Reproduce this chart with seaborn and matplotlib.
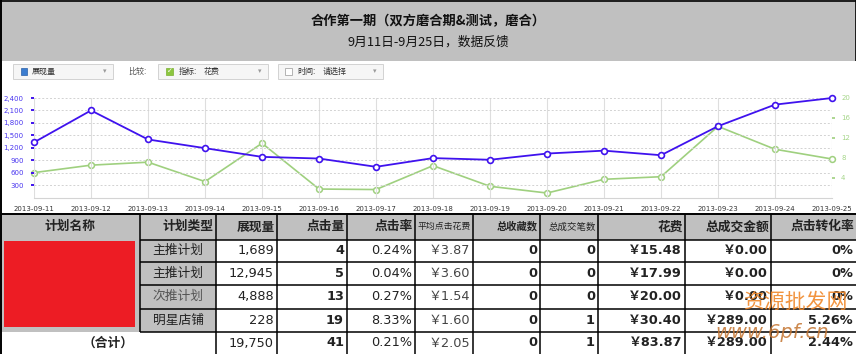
import matplotlib
matplotlib.use("Agg")
import matplotlib.pyplot as plt
import seaborn as sns
import pandas as pd
from matplotlib.patches import Rectangle
from matplotlib.lines import Line2D

# ---------------- data ----------------
dates = ['2013-09-11', '2013-09-12', '2013-09-13', '2013-09-14', '2013-09-15',
         '2013-09-16', '2013-09-17', '2013-09-18', '2013-09-19', '2013-09-20',
         '2013-09-21', '2013-09-22', '2013-09-23', '2013-09-24', '2013-09-25']
impressions = [1330, 2100, 1400, 1190, 980, 940, 740, 950, 910, 1060, 1130, 1020, 1720, 2240, 2400]
spend = [5.0, 6.5, 7.1, 3.2, 10.9, 1.7, 1.6, 6.4, 2.25, 0.9, 3.66, 4.18, 14.3, 9.7, 7.74]
left_ticks = [300, 600, 900, 1200, 1500, 1800, 2100, 2400]
right_ticks = [4, 8, 12, 16, 20]

title1 = '合作第一期（双方磨合期&测试，磨合）'
title2 = '9月11日-9月25日，数据反馈'

headers = ['计划名称', '计划类型', '展现量', '点击量', '点击率', '平均点击花费',
           '总收藏数', '总成交笔数', '花费', '总成交金额', '点击转化率']
plan_types = ['主推计划', '主推计划', '次推计划', '明星店铺']
total_label = '（合计）'
col_impr = ['1,689', '12,945', '4,888', '228', '19,750']
col_clicks = ['4', '5', '13', '19', '41']
col_ctr = ['0.24%', '0.04%', '0.27%', '8.33%', '0.21%']
col_cpc = ['￥3.87', '￥3.60', '￥1.54', '￥1.60', '￥2.05']
col_fav = ['0', '0', '0', '0', '0']
col_orders = ['0', '0', '0', '1', '1']
col_cost = ['￥15.48', '￥17.99', '￥20.00', '￥30.40', '￥83.87']
col_revenue = ['￥0.00', '￥0.00', '￥0.00', '￥289.00', '￥289.00']
col_cvr = ['0%', '0%', '0%', '5.26%', '2.44%']

# ---------------- setup ----------------
sns.set_style("white")
CJK = ['Noto Sans CJK SC', 'DejaVu Sans']
NUM = ['DejaVu Sans', 'Noto Sans CJK SC']
plt.rcParams['font.family'] = CJK

W, H = 856, 354
fig = plt.figure(figsize=(W / 100, H / 100), dpi=100)
fig.patch.set_facecolor('white')


def R(x0, y0, x1, y1, **kw):
    r = Rectangle((x0 / W, 1 - y1 / H), (x1 - x0) / W, (y1 - y0) / H,
                  transform=fig.transFigure, **kw)
    fig.add_artist(r)
    return r


def L(x0, y0, x1, y1, color='black', lw=1.0, **kw):
    ln = Line2D([x0 / W, x1 / W], [1 - y0 / H, 1 - y1 / H], transform=fig.transFigure,
                color=color, lw=lw, solid_capstyle='butt', **kw)
    fig.add_artist(ln)


def T(x, y, s, **kw):
    kw.setdefault('va', 'center')
    return fig.text(x / W, 1 - y / H, s, **kw)


# ---------------- header ----------------
R(0, 0, W, 61, facecolor='#c0c0c0', edgecolor='none')
L(0, 0.5, W, 0.5, lw=1.2)
L(855.5, 0, 855.5, 61, lw=1.2)
L(0.5, 0, 0.5, H, lw=1.4)
T(428, 21.5, title1, ha='center', fontsize=9.5, fontweight='bold', color='#111', family=CJK)
T(428, 42.5, title2, ha='center', fontsize=9.2, color='#111', family=CJK)

# ---------------- controls strip ----------------
for (x0, x1) in [(13, 113), (158, 268), (278, 383)]:
    R(x0, 64, x1, 79, facecolor='#f6f6f6', edgecolor='#d2d2d2', lw=0.7)
    T(x1 - 8, 71.5, '▾', ha='center', fontsize=5, color='#9a9a9a', family=NUM)
R(21, 68, 27, 75, facecolor='#3b7dd0', edgecolor='#2a5fa8', lw=0.5)
T(32, 71.5, '展现量', ha='left', fontsize=5.8, color='#333', family=CJK)
T(128, 71.5, '比较:', ha='left', fontsize=5.8, color='#555', family=CJK)
R(166, 68, 173, 75, facecolor='#8cc63f', edgecolor='#7ab030', lw=0.5)
T(169.5, 71.5, '✓', ha='center', fontsize=5, color='white', fontweight='bold', family=NUM)
T(179, 71.5, '指标:', ha='left', fontsize=5.8, color='#333', family=CJK)
T(204, 71.5, '花费', ha='left', fontsize=5.8, color='#333', family=CJK)
R(285, 68, 292, 75, facecolor='white', edgecolor='#a8a8a8', lw=0.6)
T(297, 71.5, '时间:', ha='left', fontsize=5.8, color='#333', family=CJK)
T(323, 71.5, '请选择', ha='left', fontsize=5.8, color='#333', family=CJK)

# ---------------- line chart ----------------
df = pd.DataFrame({'idx': list(range(len(dates))), 'impressions': impressions, 'spend': spend})
ax = fig.add_axes([34 / W, 1 - 197.5 / H, 798 / W, 99.5 / H])
ax2 = ax.twinx()
ax.set_zorder(ax2.get_zorder() + 1)
ax.patch.set_visible(False)

blue = '#3f12ee'
green = '#9fd07f'
sns.lineplot(data=df, x='idx', y='spend', ax=ax2, color=green, lw=1.2, marker='o',
             markersize=4.2, markerfacecolor='white', markeredgecolor=green,
             markeredgewidth=1.1, clip_on=False)
sns.lineplot(data=df, x='idx', y='impressions', ax=ax, color=blue, lw=1.3, marker='o',
             markersize=4.2, markerfacecolor='white', markeredgecolor=blue,
             markeredgewidth=1.2, clip_on=False)

ax.set_xlim(0, len(dates) - 1)
ax.set_ylim(0, 2400)
ax2.set_ylim(0, 20)
ax.set_xticks(range(len(dates)))
ax.set_xticklabels(dates, fontsize=5, color='#333', family=NUM)
ax.set_yticks(left_ticks)
ax.set_yticklabels([f'{v:,}' for v in left_ticks], fontsize=5, color='#4a36f0', family=NUM)
ax2.set_yticks(right_ticks)
ax2.set_yticklabels([str(v) for v in right_ticks], fontsize=5, color='#a6d68a', family=NUM)
ax.tick_params(axis='x', length=3, width=0.8, color='#d4d4d4', pad=3)
ax.tick_params(axis='y', length=2.5, width=1.4, color=blue, pad=5)
ax2.tick_params(axis='y', length=2.5, width=1.2, color=green, pad=4)
ax.set_xlabel('')
ax.set_ylabel('')
ax2.set_ylabel('')
ax.grid(axis='y', ls=(0, (2, 2)), color='#d2d2d2', lw=0.7)
ax.grid(axis='x', ls='-', color='#dedede', lw=0.8)
for sp in ['top', 'left', 'right']:
    ax.spines[sp].set_visible(False)
    ax2.spines[sp].set_visible(False)
ax.spines['bottom'].set_color('#d4d4d4')
ax.spines['bottom'].set_linewidth(0.8)
ax2.spines['bottom'].set_visible(False)

# ---------------- table ----------------
xs = [0, 140, 216, 277, 347, 415, 473, 540, 598, 685, 771, 856]
ys = [214, 239.5, 262, 285, 308.5, 331.5, 354]
gray = '#c0c0c0'

R(0, ys[0], W, ys[1], facecolor=gray, edgecolor='none')
R(0, ys[1], xs[1], ys[5], facecolor=gray, edgecolor='none')
R(xs[1], ys[1], xs[2], ys[5], facecolor=gray, edgecolor='none')
R(4, 241, 135, 327, facecolor='#ed1c24', edgecolor='none')

lw = 1.1
L(0, ys[0], W, ys[0], lw=1.4)
for y in ys[1:6]:
    L(xs[1], y, W, y, lw=lw)
L(xs[1], ys[0], xs[1], ys[5], lw=lw)
for x in xs[2:11]:
    L(x, ys[0], x, H, lw=lw)

hsize = [9.2, 9.2, 9.2, 9.2, 9.2, 6.4, 7.4, 6.8, 9.2, 9.2, 9.2]
hbold = [True, True, True, True, True, False, True, False, True, True, True]
hy = (ys[0] + ys[1]) / 2
T(xs[1] / 2, hy, headers[0], ha='center', fontsize=hsize[0], fontweight='bold', color='#222', family=CJK)
for i in range(1, len(headers)):
    T(xs[i + 1] - 2, hy, headers[i], ha='right', fontsize=hsize[i],
      fontweight='bold' if hbold[i] else 'normal', color='#222', family=CJK)

row_cy = [(ys[i] + ys[i + 1]) / 2 for i in range(1, 5)] + [343]
for r, pt in enumerate(plan_types):
    T((xs[1] + xs[2]) / 2, row_cy[r], pt, ha='center', fontsize=9.2,
      color='#555' if pt == '次推计划' else '#222', family=CJK)
T(xs[2] / 2, row_cy[4], total_label, ha='center', fontsize=9.2, fontweight='bold', color='#222', family=CJK)

cols = [col_impr, col_clicks, col_ctr, col_cpc, col_fav, col_orders, col_cost, col_revenue, col_cvr]
cbold = [False, True, False, False, True, True, True, True, True]
ccolor = ['#222', '#222', '#222', '#444', '#222', '#222', '#222', '#222', '#222']
for c, col in enumerate(cols):
    xr = xs[c + 3] - 3
    for r, v in enumerate(col):
        T(xr, row_cy[r], v, ha='right', fontsize=9.3, color=ccolor[c],
          fontweight='bold' if cbold[c] else 'normal', family=NUM)

# watermark
T(795, 302, '资源批发网', ha='center', fontsize=15, color='#f0882a', alpha=0.9, family=CJK)
T(772, 333, 'www.6pf.cn', ha='center', fontsize=14, color='#c47430', alpha=0.85,
  style='italic', family=NUM)

fig.savefig('out.png', dpi=100)
